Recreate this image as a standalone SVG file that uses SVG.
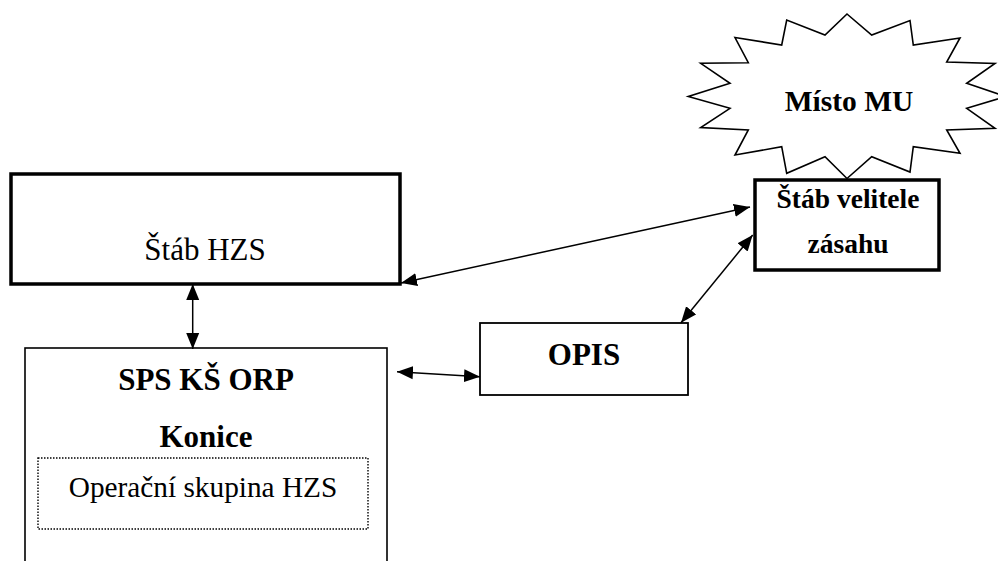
<svg xmlns="http://www.w3.org/2000/svg" width="998" height="561" viewBox="0 0 998 561">
<style>
.t{font-family:"Liberation Serif","Times New Roman",serif;fill:#000;text-anchor:middle}
.b{font-weight:bold}
.box{fill:#fff;stroke:#000}
.thick{stroke-width:3.5}
.thin{stroke-width:1.6}
.c{stroke:#000;stroke-width:1.5;fill:none;marker-start:url(#ah);marker-end:url(#ah)}
</style>
<defs>
<marker id="ah" viewBox="0 0 16 14" refX="16" refY="7" markerWidth="16" markerHeight="14" markerUnits="userSpaceOnUse" orient="auto-start-reverse">
<path d="M0,0.5 L16,7 L0,13.5 Z" fill="#000"/>
</marker>
</defs>
<rect width="998" height="561" fill="#fff"/>
<g id="misto-mu">
<polygon class="box" stroke-width="1.6" points="847,14 871.7,35 910,20.5 913.3,45 960,38 946.7,62 995,63.5 966.7,83.3 1006,96.5 966.7,108.3 995,128.3 946.7,130 960,153.3 913.3,146.7 910,172 871.7,156.7 847,178.5 825,156.7 786.7,173.3 781.7,146.7 735,155 748.3,130 700.7,127.5 730,108.3 688.3,96.5 730,83.3 700.7,63.3 748.3,62.7 735,37.5 781.7,45 786.7,20 825,35"/>
<text class="t b" x="849" y="111" font-size="29.5">Místo MU</text>
</g>
<g id="stab-hzs">
<rect class="box thick" x="11" y="174" width="389" height="110"/>
<text class="t" x="205" y="259.5" font-size="31">Štáb HZS</text>
</g>
<g id="stab-velitele">
<rect class="box thick" x="755" y="180" width="184" height="90"/>
<text class="t b" x="848" y="208" font-size="27.5">Štáb velitele</text>
<text class="t b" x="848" y="253" font-size="27.5">zásahu</text>
</g>
<g id="sps">
<rect class="box thin" x="25" y="348" width="362" height="230"/>
<text class="t b" x="206" y="390" font-size="31">SPS KŠ ORP</text>
<text class="t b" x="206" y="447" font-size="31">Konice</text>
</g>
<g id="operacni-skupina">
<rect x="38" y="458" width="330" height="71" fill="none" stroke="#000" stroke-width="1.4" stroke-dasharray="1.5,1.5"/>
<text class="t" x="203" y="497" font-size="29.3">Operační skupina HZS</text>
</g>
<g id="opis">
<rect class="box" stroke-width="1.8" x="480" y="323" width="208" height="72"/>
<text class="t b" x="584" y="365" font-size="31">OPIS</text>
</g>
<g id="connectors">
<line class="c" x1="192.7" y1="284" x2="192.7" y2="349"/>
<line class="c" x1="401" y1="283" x2="750" y2="207"/>
<line class="c" x1="681" y1="322.7" x2="752.7" y2="235"/>
<line class="c" x1="397" y1="371.7" x2="480" y2="376.7"/>
</g>
</svg>
